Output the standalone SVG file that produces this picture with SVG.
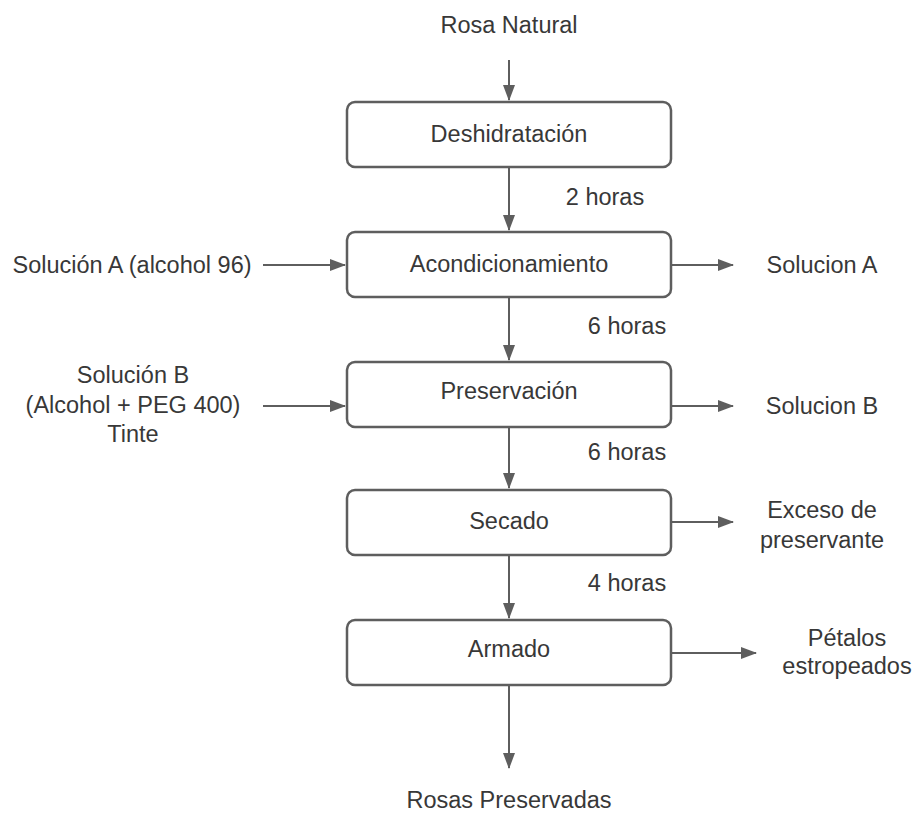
<svg xmlns="http://www.w3.org/2000/svg" width="912" height="813" viewBox="0 0 912 813">
<style>
.box{fill:#fff;stroke:#5e5e5e;stroke-width:2.5}
.t{font-family:"Liberation Sans",Arial,sans-serif;font-size:23.5px;fill:#383838;text-anchor:middle}
.c{stroke:#5e5e5e;stroke-width:2;fill:none;marker-end:url(#ah)}
</style>
<defs>
<marker id="ah" markerWidth="16" markerHeight="12" refX="15" refY="6" orient="auto" markerUnits="userSpaceOnUse">
<path d="M0,0 L16,6 L0,12 Z" fill="#5e5e5e"/>
</marker>
</defs>
<rect width="912" height="813" fill="#fff"/>
<g id="connectors">
<path class="c" d="M509,60 V100"/>
<path class="c" d="M509,167 V230"/>
<path class="c" d="M509,297 V360"/>
<path class="c" d="M509,427 V488"/>
<path class="c" d="M509,555 V618"/>
<path class="c" d="M509,685 V768"/>
<path class="c" d="M263,265 H345"/>
<path class="c" d="M263,406 H345"/>
<path class="c" d="M671,265 H733"/>
<path class="c" d="M671,406 H733"/>
<path class="c" d="M671,522 H733"/>
<path class="c" d="M671,653 H756"/>
</g>
<g id="n-deshidratacion"><rect class="box" x="347" y="102" width="324" height="65" rx="8"/><text class="t" x="509" y="142">Deshidratación</text></g>
<g id="n-acondicionamiento"><rect class="box" x="347" y="232" width="324" height="65" rx="8"/><text class="t" x="509" y="272">Acondicionamiento</text></g>
<g id="n-preservacion"><rect class="box" x="347" y="362" width="324" height="65" rx="8"/><text class="t" x="509" y="399">Preservación</text></g>
<g id="n-secado"><rect class="box" x="347" y="490" width="324" height="65" rx="8"/><text class="t" x="509" y="529">Secado</text></g>
<g id="n-armado"><rect class="box" x="347" y="620" width="324" height="65" rx="8"/><text class="t" x="509" y="657">Armado</text></g>
<g id="n-rosa-natural"><text class="t" x="509" y="33">Rosa Natural</text></g>
<g id="n-rosas-preservadas"><text class="t" x="509" y="808">Rosas Preservadas</text></g>
<g id="n-solucion-a-in"><text class="t" x="132" y="273">Solución A (alcohol 96)</text></g>
<g id="n-solucion-b-in"><text class="t" x="133" y="383">Solución B</text><text class="t" x="133" y="413">(Alcohol + PEG 400)</text><text class="t" x="133" y="442">Tinte</text></g>
<g id="n-solucion-a-out"><text class="t" x="822" y="273">Solucion A</text></g>
<g id="n-solucion-b-out"><text class="t" x="822" y="414">Solucion B</text></g>
<g id="n-exceso"><text class="t" x="822" y="518">Exceso de</text><text class="t" x="822" y="548">preservante</text></g>
<g id="n-petalos"><text class="t" x="847" y="646">Pétalos</text><text class="t" x="847" y="674">estropeados</text></g>
<g id="labels">
<text class="t" x="605" y="205">2 horas</text>
<text class="t" x="627" y="334">6 horas</text>
<text class="t" x="627" y="460">6 horas</text>
<text class="t" x="627" y="591">4 horas</text>
</g>
</svg>
